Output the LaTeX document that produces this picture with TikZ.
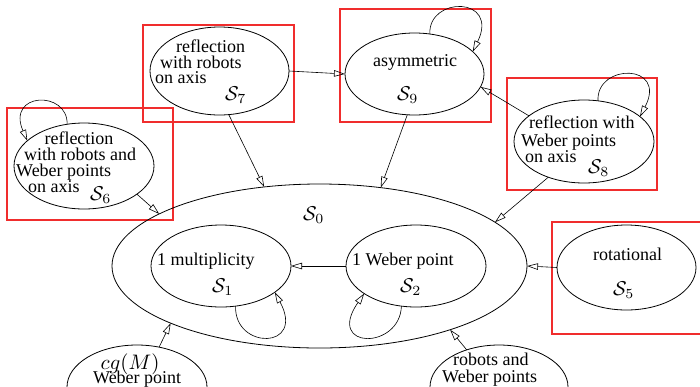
\documentclass[tikz,border=0pt]{standalone}
\usepackage{fontspec}
\setmainfont{Liberation Serif}
\usetikzlibrary{shapes.geometric,arrows.meta}
\definecolor{boxred}{RGB}{240,45,45}
% math set at normal size and enlarged to the label size
\newcommand{\bigmath}[2][1.8]{\scalebox{#1}{\normalsize$#2$}}
\newcommand{\cls}[1]{\bigmath[2.0]{\mathcal{S}_{#1}}}
\begin{document}
\begin{tikzpicture}[x=1pt,y=-1pt,
  ell/.style={draw, ellipse, line width=0.8pt, inner sep=0pt, outer sep=0pt},
  lbl/.style={inner sep=0pt, font=\fontsize{18}{16}\selectfont},
  frame/.style={draw=boxred, line width=1.2pt},
  arr/.style={line width=0.6pt, -{Triangle[open,length=11pt,width=6.5pt]}},
]
\useasboundingbox[fill=white] (0,0) rectangle (700,386);

% highlighted classes
\draw[frame] (7,108) rectangle (173,220);
\draw[frame] (143,25) rectangle (294,122);
\draw[frame] (340,9) rectangle (491,122);
\draw[frame] (507,78) rectangle (657,190);
\draw[frame] (552,222) rectangle (706,334);

% configuration classes
\node[ell, minimum width=140pt, minimum height=86pt] (s6) at (84,166) {};
\node[ell, minimum width=139pt, minimum height=88pt] (s7) at (219.5,71) {};
\node[ell, minimum width=139pt, minimum height=82pt] (s9) at (414.5,74) {};
\node[ell, minimum width=140pt, minimum height=83pt] (s8) at (584,141.5) {};
\node[ell, minimum width=415pt, minimum height=164pt] (s0) at (319.5,266) {};
\node[ell, minimum width=140pt, minimum height=82pt] (s1) at (221,266) {};
\node[ell, minimum width=140pt, minimum height=82pt] (s2) at (416,266) {};
\node[ell, minimum width=139pt, minimum height=85pt] (s5) at (626.5,267.5) {};
\node[ell, minimum width=140pt, minimum height=84pt] (cgm) at (137,387) {};
\node[ell, minimum width=138pt, minimum height=84pt] (rwp) at (499,387) {};

% labels
\node[lbl, anchor=base] (t6a) at (79,144) {reflection};
\node[lbl, anchor=base west] (t6b) at (24,160.5) {with robots and};
\node[lbl, anchor=base west] (t6c) at (16,176) {Weber points};
\node[lbl, anchor=base west] (t6d) at (28,192) {on axis};
\node[lbl, anchor=base west] (t6s) at (90,200) {\cls{6}};

\node[lbl, anchor=base west] (t7a) at (176,52) {reflection};
\node[lbl, anchor=base west] (t7b) at (160,68) {with robots};
\node[lbl, anchor=base west] (t7c) at (155,83) {on axis};
\node[lbl, anchor=base west] (t7s) at (225,100) {\cls{7}};

\node[lbl, anchor=base] (t9a) at (415,66) {asymmetric};
\node[lbl, anchor=base west] (t9s) at (397,100) {\cls{9}};

\node[lbl, anchor=base west] (t8a) at (529,128) {reflection with};
\node[lbl, anchor=base west] (t8b) at (521,146) {Weber points};
\node[lbl, anchor=base west] (t8c) at (525,162) {on axis};
\node[lbl, anchor=base west] (t8s) at (588,173) {\cls{8}};

\node[lbl, anchor=base west] (t0s) at (303,220) {\cls{0}};

\node[lbl, anchor=base west] (t1a) at (157,265) {1 multiplicity};
\node[lbl, anchor=base west] (t1s) at (212,292) {\cls{1}};

\node[lbl, anchor=base west] (t2a) at (352,265) {1 Weber point};
\node[lbl, anchor=base west] (t2s) at (400,292) {\cls{2}};

\node[lbl, anchor=base] (t5a) at (627.5,260) {rotational};
\node[lbl, anchor=base west] (t5s) at (613,295) {\cls{5}};

\node[lbl, anchor=base] (tca) at (130,369) {\bigmath[2.1]{cg(M)}};
\node[lbl, anchor=base west] (tcb) at (93,383) {Weber point};

\node[lbl, anchor=base west] (tra) at (453,365) {robots and};
\node[lbl, anchor=base west] (trb) at (442,382) {Weber points};

% transitions
\draw[arr] (s6.-28) -- (s0.162);
\draw[arr] (s7.east) -- (s9.west);
\draw[arr] (s7.-78) -- (s0.125);
\draw[arr] (s9.-100) -- (s0.52);
\draw[arr] (s8.155) -- (s9.-11);
\draw[arr] (s8.-135) -- (s0.14);
\draw[arr] (s2.west) -- (s1.east);
\draw[arr] (s5.west) -- (s0.east);
\draw[arr] (cgm.61) -- (s0.-159);
\draw[arr] (rwp.131) -- (s0.-26);

% self loops
\draw[arr] (s6.112) .. controls (68,90) and (6,92) .. (s6.156);
\draw[arr] (s9.69) .. controls (428,-4) and (500,-4) .. (s9.21);
\draw[arr] (s8.71) .. controls (596,63) and (668,63) .. (s8.24);
\draw[arr] (s1.-70) .. controls (234,350) and (306,350) .. (s1.-26);
\draw[arr] (s2.-110) .. controls (400,350) and (325,350) .. (s2.-152);
\end{tikzpicture}
\end{document}
